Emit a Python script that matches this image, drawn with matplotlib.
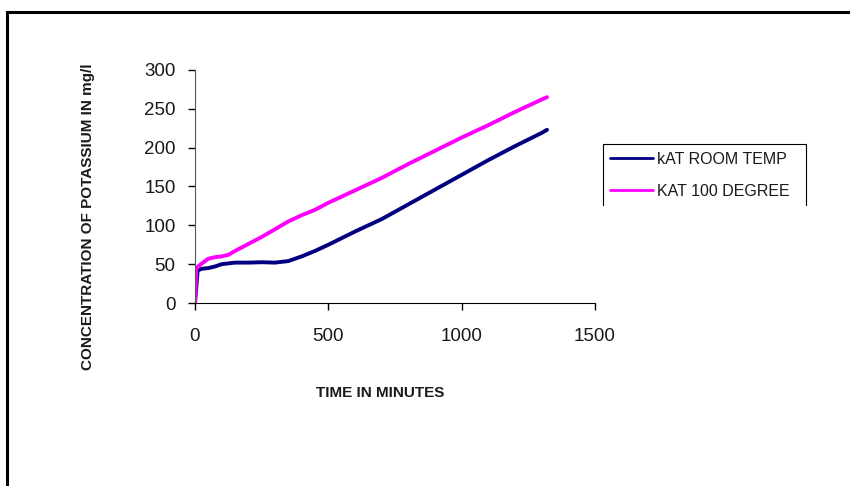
import matplotlib
matplotlib.use("Agg")
import matplotlib.pyplot as plt
from matplotlib.lines import Line2D

plt.rcParams['font.family'] = ['Liberation Sans', 'DejaVu Sans']

# Room temperature series
time_room = [0, 10, 25, 50, 75, 100, 150, 200, 250, 300, 350, 400, 450, 500,
             600, 700, 800, 900, 1000, 1100, 1200, 1300, 1320]
conc_room = [0, 42, 44, 45, 47, 50, 52, 52, 52.5, 52, 54, 60, 67, 75,
             92, 108, 127, 146, 165, 184, 202, 219, 223]

# 100 degree series
time_100 = [0, 5, 15, 30, 50, 75, 100, 125, 150, 200, 250, 300, 350, 400, 450, 500,
            600, 700, 800, 900, 1000, 1100, 1200, 1300, 1320]
conc_100 = [0, 45, 48, 52, 57, 59, 60, 62, 67, 76, 85, 95, 105, 113, 120, 129,
            145, 161, 179, 196, 213, 229, 246, 262, 265]

labels = ["kAT ROOM TEMP", "KAT 100 DEGREE"]
x_ticks = [0, 500, 1000, 1500]
y_ticks = [0, 50, 100, 150, 200, 250, 300]

W, H = 850, 486
fig = plt.figure(figsize=(8.5, 4.86), dpi=100)
ax = fig.add_axes([195 / W, 1 - 303 / H, 400 / W, (303 - 70) / H])

ax.plot(time_room, conc_room, color="#000080", lw=2.8, label=labels[0],
        solid_capstyle="round")
ax.plot(time_100, conc_100, color="#ff00ff", lw=2.8, label=labels[1],
        solid_capstyle="round")

ax.set_xlim(0, 1500)
ax.set_ylim(0, 300)
ax.set_xticks(x_ticks)
ax.set_yticks(y_ticks)
ax.tick_params(labelsize=13.5, length=5, width=1, colors="black")
ax.tick_params(axis="x", pad=13)
ax.tick_params(axis="y", pad=9)
for s in ["top", "right"]:
    ax.spines[s].set_visible(False)
ax.spines["left"].set_color("#555555")
ax.spines["bottom"].set_color("black")
for t in ax.get_xticklabels() + ax.get_yticklabels():
    t.set_color("#1a1a1a")

fig.text(88 / W, 1 - 217 / H, "CONCENTRATION OF POTASSIUM IN mg/l", rotation=90,
         ha="center", va="center", fontsize=11, fontweight="bold", color="#1a1a1a")
fig.text(380 / W, 1 - 393 / H, "TIME IN MINUTES", ha="center", va="center",
         fontsize=11, fontweight="bold", color="#1a1a1a")

# legend (box open at the bottom, as in the reference)
leg = fig.legend(loc="upper left", bbox_to_anchor=(610 / W, 1 - 152 / H),
                 frameon=False, fontsize=11.5, handlelength=2.7,
                 handletextpad=0.25, labelspacing=1.05, borderpad=0,
                 borderaxespad=0)
for t in leg.get_texts():
    t.set_color("#1a1a1a")
for ln in leg.get_lines():
    ln.set_linewidth(2)
box_x = [603 / W, 603 / W, 806 / W, 806 / W]
box_y = [1 - 205 / H, 1 - 144 / H, 1 - 144 / H, 1 - 205 / H]
fig.add_artist(Line2D(box_x, box_y, color="black", lw=0.8))

# outer frame lines (top and left)
fig.add_artist(Line2D([7 / W, 7 / W, 1.0], [0.0, 1 - 12 / H, 1 - 12 / H],
                      color="black", lw=2.2, solid_joinstyle="miter"))

fig.savefig("out.png", dpi=100)
